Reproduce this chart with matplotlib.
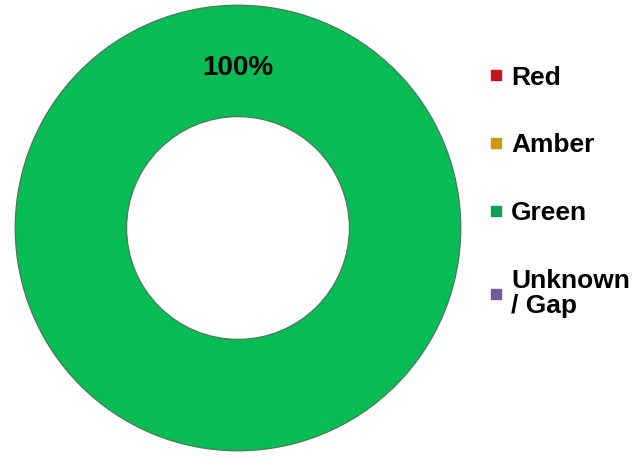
import matplotlib
matplotlib.use('Agg')
from matplotlib import pyplot as plt
from matplotlib.lines import Line2D
from matplotlib.patches import Circle

plt.rcParams['font.family'] = ['Liberation Sans', 'DejaVu Sans']

categories = ['Red', 'Amber', 'Green', 'Unknown\n/ Gap']
values = [0, 0, 100, 0]
ring_colors = ['#C00000', '#C89A00', '#07BB55', '#7060A0']
marker_colors = ['#C8141E', '#C89A10', '#0E9F55', '#6E5C9A']

fig = plt.figure(figsize=(6.43, 4.58), dpi=100)
ax = fig.add_axes([13 / 643, 5 / 458, 450 / 643, 450 / 458])

wedges, texts, autotexts = ax.pie(
    values,
    colors=ring_colors,
    startangle=-90,
    counterclock=False,
    radius=1,
    wedgeprops=dict(width=0.5, linewidth=0),
    autopct=lambda p: f'{p:.0f}%' if p > 0 else '',
    pctdistance=0.72,
    textprops=dict(fontsize=20, fontweight='bold', color='black'),
)
# thin dark rim like the original's bevel
for r in (1.0, 0.5):
    ax.add_patch(Circle((0, 0), r, fill=False, edgecolor='#4a7a5c', linewidth=0.9))
ax.set_xlim(-1.01, 1.01)
ax.set_ylim(-1.01, 1.01)
ax.set_aspect('equal')

handles = [Line2D([], [], linestyle='none', marker='s', markersize=7.5,
                  markerfacecolor=c, markeredgecolor=c) for c in marker_colors]
leg = fig.legend(handles, categories, loc='upper left',
                 bbox_to_anchor=(478 / 643, 1 - 55 / 458),
                 frameon=False, handlelength=0.55, handletextpad=0.3,
                 labelspacing=1.66, borderaxespad=0,
                 prop=dict(size=19, weight='bold'))
for t in leg.get_texts():
    t.set_linespacing(1.05)

fig.savefig('out.png', dpi=100)
